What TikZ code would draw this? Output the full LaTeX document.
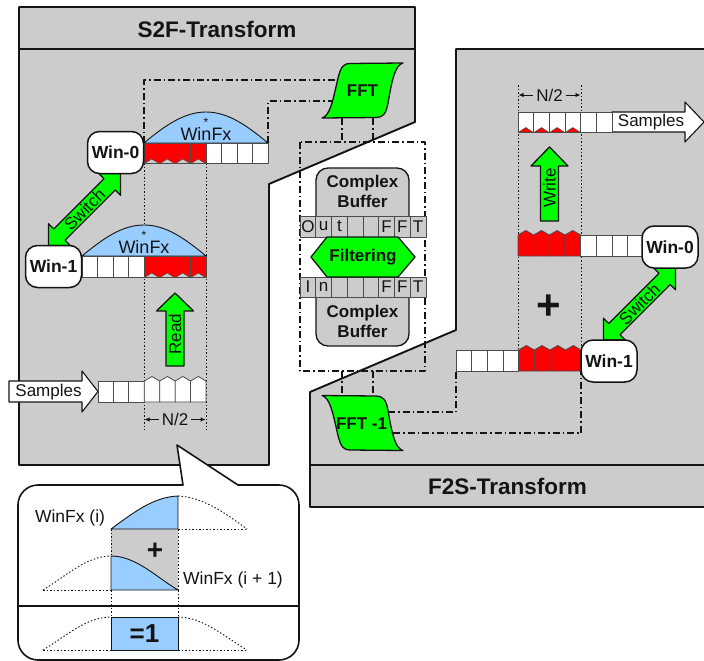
\documentclass[tikz,border=0pt]{standalone}
\usepackage{fontspec}
\setmainfont{Liberation Sans}
\usetikzlibrary{arrows.meta,calc}
\definecolor{panelgray}{HTML}{CCCCCC}
\definecolor{winblue}{HTML}{99CCFF}
\definecolor{actgreen}{HTML}{00FF00}
\definecolor{cellred}{HTML}{FF0000}
\definecolor{ink}{HTML}{141414}
\newcommand\fsz[1]{\fontsize{#1}{#1}\selectfont}
% plain white cells: x0, top, bottom, width, first index, last index
\newcommand\plaincells[6]{\foreach \i in {#5,...,#6}{\draw[cell,fill=white] ({#1+\i*#4},#2) rectangle ({#1+(\i+1)*#4},#3);}}
% red cell with a white notch cut into its bottom edge: x, top, bottom, width
\newcommand\notchcell[4]{%
  \fill[cellred] ({#1},#2) -- ({#1+#4},#2) -- ({#1+#4},#3) -- ({#1+#4-1.2},#3) -- ({#1+#4/2},{#3-4}) -- ({#1+1.2},#3) -- ({#1},#3) -- cycle;
  \draw[cell] ({#1},#2) rectangle ({#1+#4},#3);
  \draw[cell,line width=0.5pt] ({#1+1.2},#3) -- ({#1+#4/2},{#3-4}) -- ({#1+#4-1.2},#3);}
% cell with a pointed roof: x, top, bottom, width, fill
\newcommand\roofcell[5]{%
  \draw[cell,fill=#5] ({#1},#3) -- ({#1},#2) -- ({#1+#4/2},{#2-4.5}) -- ({#1+#4},#2) -- ({#1+#4},#3) -- cycle;}
% small red roof standing on the bottom edge of a cell: x, bottom, width
\newcommand\redbump[3]{%
  \draw[cell,line width=0.5pt,fill=cellred] ({#1+1},#2) -- ({#1+#3/2},{#2-4.5}) -- ({#1+#3-1},#2) -- cycle;}
% window hump over a register: x0, base y, peak y, length
\newcommand\hump[4]{%
  \draw[humpline] ({#1},#2) .. controls ({#1+#4*0.18},{#2-(#2-#3)*0.6}) and ({#1+#4*0.33},#3) .. ({#1+#4/2},#3)
     .. controls ({#1+#4*0.67},#3) and ({#1+#4*0.82},{#2-(#2-#3)*0.6}) .. ({#1+#4},#2) -- cycle;}
% upward block arrow: centre x, tip y, head base y, bottom y
\newcommand\blockup[4]{%
  \draw[greenarrow] ({#1-9},#4) -- ({#1-9},#3) -- ({#1-18.5},#3) -- ({#1},#2) -- ({#1+18.5},#3) -- ({#1+9},#3) -- ({#1+9},#4) -- cycle;}
\tikzset{
  panel/.style={fill=panelgray,draw=ink,line width=1.9pt},
  panelline/.style={draw=ink,line width=1.9pt},
  title/.style={font=\bfseries\fsz{22.5},text=ink,inner sep=0pt},
  winbox/.style={draw=ink,fill=white,line width=1.5pt,rounded corners=12pt,minimum width=56pt,minimum height=42pt,font=\bfseries\fsz{17.5},text=ink,inner sep=0pt},
  cell/.style={draw=black!70,line width=0.8pt},
  humpline/.style={fill=winblue,draw=ink,line width=0.9pt},
  bluefill/.style={fill=winblue,draw=ink,line width=0.9pt},
  dashdot/.style={draw=ink,line width=1.5pt,dash pattern=on 7pt off 3pt on 1.5pt off 3pt},
  dotline/.style={draw=ink,line width=0.9pt,dash pattern=on 1.5pt off 2pt},
  greenarrow/.style={fill=actgreen,draw=ink,line width=1.3pt},
  whitearrow/.style={fill=white,draw=ink,line width=1.1pt},
  greenshape/.style={fill=actgreen,draw=ink,line width=1.3pt},
  plain/.style={font=\fsz{17},text=ink,inner sep=0pt},
  boldtxt/.style={font=\bfseries\fsz{17},text=ink,inner sep=0pt},
  bufftxt/.style={font={\bfseries\fontsize{17}{19.5}\selectfont},text=ink,inner sep=0pt,align=center},
  celltext/.style={font=\fsz{17},text=ink,inner sep=0pt},
  dimarrow/.style={draw=ink,line width=0.9pt,-{Latex[length=5pt,width=4.5pt]}},
  fftshape/.pic={\draw[greenshape] (-40.5,27.5) .. controls (-32.5,25.5) and (-29.5,9.5) .. (-24.5,-12.5)
     .. controls (-21.5,-24.5) and (-18.5,-27) .. (-12.5,-27) -- (40.5,-27.5)
     .. controls (32.5,-25.5) and (29.5,-10.5) .. (25.5,12.5)
     .. controls (23.5,23.5) and (20.5,27) .. (13.5,27) -- cycle;}
}
\begin{document}
\begin{tikzpicture}[x=1pt,y=-1pt,line join=round]
\useasboundingbox (0,0) rectangle (704,661);

% ---------- panels ----------
\draw[panel] (19,7) -- (415,7) -- (415,122) -- (269,184) -- (269,465) -- (19,465) -- cycle;
\draw[panelline] (19,49) -- (415,49);
\node[title] (s2ftitle) at (217,29) {S2F-Transform};

\draw[panel] (456,49) -- (712,49) -- (712,507) -- (310,507) -- (310,392) -- (456,330) -- cycle;
\draw[panelline] (310,465) -- (712,465);
\node[title] (f2stitle) at (507.5,486) {F2S-Transform};

% ---------- named anchor points ----------
\coordinate (w0hl) at (144,143);
\coordinate (w0hr) at (268,143);
\coordinate (fftinA) at (338.5,80);
\coordinate (fftinB) at (333,101);
\coordinate (fftoutA) at (342,118);
\coordinate (fftoutB) at (373,118);
\coordinate (bufNW) at (300,142);
\coordinate (bufSE) at (425,371);
\coordinate (ifftinA) at (342,395);
\coordinate (ifftinB) at (373,395);
\coordinate (ifftoutA) at (388,412);
\coordinate (ifftoutB) at (393,433);
\coordinate (r1l) at (456,371);
\coordinate (r1r) at (581,371);

% ---------- dash-dot data paths ----------
\draw[dashdot] (w0hl) |- (fftinA);
\draw[dashdot] (w0hr) |- (fftinB);
\draw[dashdot] (fftoutA) -- (fftoutA |- bufNW);
\draw[dashdot] (fftoutB) -- (fftoutB |- bufNW);
\draw[dashdot] (bufNW) rectangle (bufSE);
\draw[dashdot] (ifftinA |- bufSE) -- (ifftinA);
\draw[dashdot] (ifftinB |- bufSE) -- (ifftinB);
\draw[dashdot] (ifftoutA) -| (r1l);
\draw[dashdot] (ifftoutB) -| (r1r);

% ---------- S2F contents ----------
\draw[dotline] (144,163) -- (144,430);
\draw[dotline] (206,163) -- (206,430);

% window 0
\hump{144}{143}{112}{124}
\node[plain,font=\fsz{12}] (star0) at (206,122) {*};
\node[plain,font=\fsz{18}] (winfx0) at (206,134) {WinFx};
\foreach \i in {0,...,3}{\notchcell{144+\i*15.5}{143}{163}{15.5}}
\plaincells{144}{143}{163}{15.5}{4}{7}

% window 1
\hump{82}{256}{225}{124}
\node[plain,font=\fsz{12}] (star1) at (144,235) {*};
\node[plain,font=\fsz{18}] (winfx1) at (144,247) {WinFx};
\plaincells{82}{256}{277}{15.5}{0}{3}
\foreach \i in {4,...,7}{\notchcell{82+\i*15.5}{256}{277}{15.5}}

% input samples
\draw[whitearrow] (9,381) -- (82,381) -- (82,371) -- (98,391.5) -- (82,412) -- (82,402) -- (9,402) -- cycle;
\node[plain] (sampin) at (48.5,392) {Samples};
\plaincells{98}{381}{402}{15.43}{0}{2}
\foreach \i in {3,...,6}{\roofcell{98+\i*15.43}{381}{402}{15.43}{white}}

% read arrow
\blockup{175}{293}{311}{366}
\node[plain,rotate=90] (readtxt) at (175,334) {Read};

% half-length marker
\node[plain] (nhalfL) at (175,419.5) {N/2};
\draw[dimarrow] (nhalfL.west) ++(-3,0) -- (144.5,419.5);
\draw[dimarrow] (nhalfL.east) ++(3,0) -- (205.5,419.5);

% switch between windows
\coordinate (swL) at (84.5,209.5);
\begin{scope}[shift={(swL)},rotate=45]
  \draw[greenarrow] (-51,0) -- (-35.5,-15.5) -- (-35.5,-8) -- (35.5,-8) -- (35.5,-15.5) -- (51,0) -- (35.5,15.5) -- (35.5,8) -- (-35.5,8) -- (-35.5,15.5) -- cycle;
\end{scope}
\node[plain,rotate=45] (switchL) at (swL) {Switch};

\node[winbox] (w0L) at (115.5,152.5) {Win-0};
\node[winbox] (w1L) at (53.5,266.5) {Win-1};

% FFT block
\pic at (362.5,90.5) {fftshape};
\node[boldtxt] (fft) at (362.5,90.5) {FFT};

% ---------- frequency domain buffers ----------
\draw[fill=panelgray,draw=ink,line width=1.3pt,rounded corners=12pt] (316,226) -- (316,168) -- (409,168) -- (409,226);
\node[bufftxt] (cbufA) at (362.5,191.5) {Complex\\Buffer};
\foreach \t [count=\k from 0] in {O,u,t,{},{},F,F,T}{
  \draw[cell,fill=panelgray] ({300+\k*15.75},216) rectangle ({300+(\k+1)*15.75},237);
  \node[celltext] (outc\k) at ({300+(\k+0.5)*15.75},226.5) {\t};}

\draw[fill=panelgray,draw=ink,line width=1.3pt,rounded corners=12pt] (316,288) -- (316,346) -- (409,346) -- (409,288);
\node[bufftxt] (cbufB) at (362.5,321.5) {Complex\\Buffer};
\foreach \t [count=\k from 0] in {I,n,{},{},{},F,F,T}{
  \draw[cell,fill=panelgray] ({300+\k*15.75},277) rectangle ({300+(\k+1)*15.75},297);
  \node[celltext] (inc\k) at ({300+(\k+0.5)*15.75},287) {\t};}

\draw[greenshape] (311,257) -- (327,237) -- (398,237) -- (415,257) -- (398,277) -- (327,277) -- cycle;
\node[boldtxt] (filt) at (363,257) {Filtering};

% inverse FFT block
\pic[yscale=-1] at (362.5,423) {fftshape};
\node[boldtxt] (ifft) at (361.5,424) {FFT -1};

% ---------- F2S contents ----------
\draw[dotline] (518,85) -- (518,350);
\draw[dotline] (581,85) -- (581,350);

% output samples
\draw[whitearrow] (612,112) -- (685,112) -- (685,102) -- (704,122) -- (685,142) -- (685,132) -- (612,132) -- cycle;
\node[plain] (sampout) at (651,122) {Samples};
\plaincells{518}{112}{132}{15.67}{0}{5}
\foreach \i in {0,...,3}{\redbump{518+\i*15.67}{132}{15.67}}

\node[plain] (nhalfR) at (549.5,95) {N/2};
\draw[dimarrow] (nhalfR.west) ++(-3,0) -- (518.5,95);
\draw[dimarrow] (nhalfR.east) ++(3,0) -- (580.5,95);

% write arrow
\blockup{549.5}{147}{166}{221}
\node[plain,rotate=90] (writetxt) at (549.5,188) {Write};

% overlap-add registers
\foreach \i in {0,...,3}{\roofcell{518+\i*15.65}{235}{256}{15.65}{cellred}}
\plaincells{518}{235}{256}{15.65}{4}{7}
\plaincells{456}{350}{371}{15.65}{0}{3}
\foreach \i in {4,...,7}{\roofcell{456+\i*15.65}{350}{371}{15.65}{cellred}}

\node[font=\bfseries\fsz{42},text=ink,inner sep=0pt] (plusR) at (549,307) {+};

\coordinate (swR) at (639.5,304);
\begin{scope}[shift={(swR)},rotate=45]
  \draw[greenarrow] (-51,0) -- (-35.5,-15.5) -- (-35.5,-8) -- (35.5,-8) -- (35.5,-15.5) -- (51,0) -- (35.5,15.5) -- (35.5,8) -- (-35.5,8) -- (-35.5,15.5) -- cycle;
\end{scope}
\node[plain,rotate=45] (switchR) at (swR) {Switch};

\node[winbox] (w0R) at (670,247) {Win-0};
\node[winbox] (w1R) at (609,361) {Win-1};

% ---------- overlap callout ----------
\draw[fill=white,draw=ink,line width=1.6pt] (18,570) [rounded corners=20pt] |- (150,485) [sharp corners] -- (183,485) -- (177,445) -- (238,485) -- (260,485) [rounded corners=20pt] -| (299,570) |- (100,660) -| (18,570) -- cycle;

\fill[panelgray] (111,529) rectangle (178,590);
\draw[bluefill] (111,529) .. controls (133,513) and (153,497) .. (178,496) -- (178,529) -- cycle;
\draw[dotline] (178,496) .. controls (203,497) and (225,513) .. (247,529);
\draw[dotline] (178,529) -- (247,529);
\draw[bluefill] (111,556) .. controls (136,556) and (156,577) .. (178,590) -- (111,590) -- cycle;
\draw[dotline] (43,590) .. controls (65,577) and (86,556) .. (111,556);
\draw[dotline] (43,590) -- (111,590);
\draw[dotline] (111,529) -- (111,556);
\draw[dotline] (178,529) -- (178,590);
\draw[dotline] (111,590) -- (111,617);
\draw[dotline] (178,590) -- (178,617);
\node[font=\bfseries\fsz{28},text=ink,inner sep=0pt] (plusC) at (155,551) {+};
\node[plain,font=\fsz{17.5}] (wini) at (70,518) {WinFx (i)};
\node[plain,font=\fsz{17.5}] (winj) at (233,580) {WinFx (i + 1)};

\draw[panelline] (18,606) -- (299,606);

\draw[bluefill] (111,617) rectangle (178,650);
\draw[dotline] (43,650) .. controls (65,637) and (86,617) .. (111,617);
\draw[dotline] (178,617) .. controls (203,617) and (225,637) .. (247,650);
\draw[dotline] (43,650) -- (111,650);
\draw[dotline] (178,650) -- (247,650);
\node[font=\bfseries\fsz{26},text=ink,inner sep=0pt] (unity) at (144.5,634) {=1};
\end{tikzpicture}
\end{document}
